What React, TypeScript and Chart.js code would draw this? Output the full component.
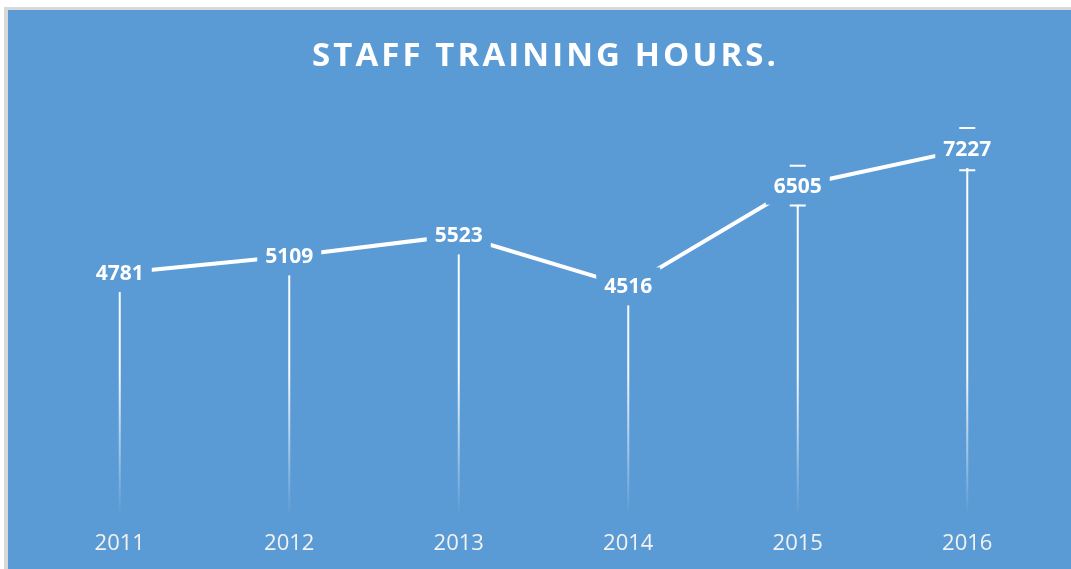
import React, { useEffect, useRef } from "react";
import { Chart, registerables } from "chart.js";

Chart.register(...registerables);

const categories = ["2011", "2012", "2013", "2014", "2015", "2016"];
const hours = [4781, 5109, 5523, 4516, 6505, 7227];
const errorMargins = [0, 0, 0, 0, 392, 416];
const chartTitle = "STAFF TRAINING HOURS.";

const BLUE = "#5B9BD5";

const decorPlugin = {
  id: "decor",
  beforeDatasetsDraw(chart: any) {
    const { ctx, chartArea, scales } = chart;
    const meta = chart.getDatasetMeta(0);
    const yScale = scales.y;
    const base = yScale.getPixelForValue(0);
    const grad = ctx.createLinearGradient(0, chartArea.top, 0, base);
    grad.addColorStop(0, "rgba(255,255,255,1)");
    grad.addColorStop(0.65, "rgba(255,255,255,0.95)");
    grad.addColorStop(1, "rgba(255,255,255,0)");
    ctx.save();
    ctx.lineWidth = 2;
    meta.data.forEach((pt: any, i: number) => {
      ctx.strokeStyle = grad;
      ctx.beginPath();
      ctx.moveTo(pt.x, pt.y);
      ctx.lineTo(pt.x, base);
      ctx.stroke();
      const err = errorMargins[i];
      if (err > 0) {
        const bot = yScale.getPixelForValue(hours[i] - err);
        ctx.strokeStyle = "#FFFFFF";
        ctx.beginPath();
        ctx.moveTo(pt.x, pt.y);
        ctx.lineTo(pt.x, bot);
        ctx.stroke();
      }
    });
    ctx.restore();
  },
  afterDatasetsDraw(chart: any) {
    const { ctx, scales } = chart;
    const yScale = scales.y;
    const meta = chart.getDatasetMeta(0);
    ctx.save();
    ctx.font = 'bold 21px "Open Sans"';
    ctx.textAlign = "center";
    ctx.textBaseline = "middle";
    meta.data.forEach((pt: any, i: number) => {
      const txt = String(hours[i]);
      const w = ctx.measureText(txt).width;
      ctx.fillStyle = BLUE;
      ctx.fillRect(pt.x - w / 2 - 8, pt.y - 19, w + 16, 38);
      ctx.fillStyle = "#FFFFFF";
      ctx.fillText(txt, pt.x, pt.y + 1);
      const err = errorMargins[i];
      if (err > 0) {
        const top = yScale.getPixelForValue(hours[i] + err);
        const bot = yScale.getPixelForValue(hours[i] - err);
        ctx.strokeStyle = "#FFFFFF";
        ctx.lineWidth = 2;
        ctx.beginPath();
        ctx.moveTo(pt.x - 8, top);
        ctx.lineTo(pt.x + 8, top);
        ctx.moveTo(pt.x - 8, bot);
        ctx.lineTo(pt.x + 8, bot);
        ctx.moveTo(pt.x, bot);
        ctx.lineTo(pt.x, bot + 2);
        ctx.stroke();
      }
    });
    ctx.restore();
  },
  afterDraw(chart: any) {
    const { ctx } = chart;
    ctx.save();
    ctx.font = 'bold 33px "Open Sans"';
    ctx.fillStyle = "#FFFFFF";
    ctx.textBaseline = "middle";
    ctx.textAlign = "left";
    const plain = ctx.measureText(chartTitle).width;
    const spacing = Math.max(0, (464 - plain) / (chartTitle.length - 1));
    (ctx as any).letterSpacing = spacing + "px";
    ctx.fillText(chartTitle, 536 - 232, 47);
    ctx.restore();
  },
};

export default function App() {
  const canvasRef = useRef<HTMLCanvasElement | null>(null);

  useEffect(() => {
    document.body.style.margin = "0";
    const canvas = canvasRef.current;
    if (!canvas) return;
    const chart = new Chart(canvas, {
      type: "line",
      data: {
        labels: categories,
        datasets: [
          {
            data: hours,
            borderColor: "#FFFFFF",
            borderWidth: 4,
            pointRadius: 0,
            tension: 0,
            fill: false,
          },
        ],
      },
      options: {
        animation: false,
        responsive: false,
        maintainAspectRatio: false,
        devicePixelRatio: 1,
        layout: { padding: { left: 27, right: 19, top: 100, bottom: -4 } },
        scales: {
          x: {
            offset: true,
            grid: { display: false, drawTicks: false },
            border: { display: false },
            ticks: {
              color: "#F2F2F2",
              font: { family: "Open Sans", size: 22, lineHeight: 1.0 },
              padding: 18,
            },
          },
          y: { display: false, min: 0, max: 8000 },
        },
        plugins: {
          legend: { display: false },
          tooltip: { enabled: false },
          title: { display: false },
        },
      },
      plugins: [decorPlugin],
    });
    return () => chart.destroy();
  }, []);

  return (
    <div style={{ position: "relative", width: 1071, height: 569, background: "#FFFFFF", overflow: "hidden" }}>
      <div style={{ position: "absolute", left: 4, top: 7, right: 0, bottom: 0, background: "#D9D9D9" }} />
      <div style={{ position: "absolute", left: 8, top: 10, width: 1063, height: 559, background: BLUE }}>
        <canvas ref={canvasRef} width={1063} height={559} style={{ display: "block", width: 1063, height: 559 }} />
      </div>
    </div>
  );
}
